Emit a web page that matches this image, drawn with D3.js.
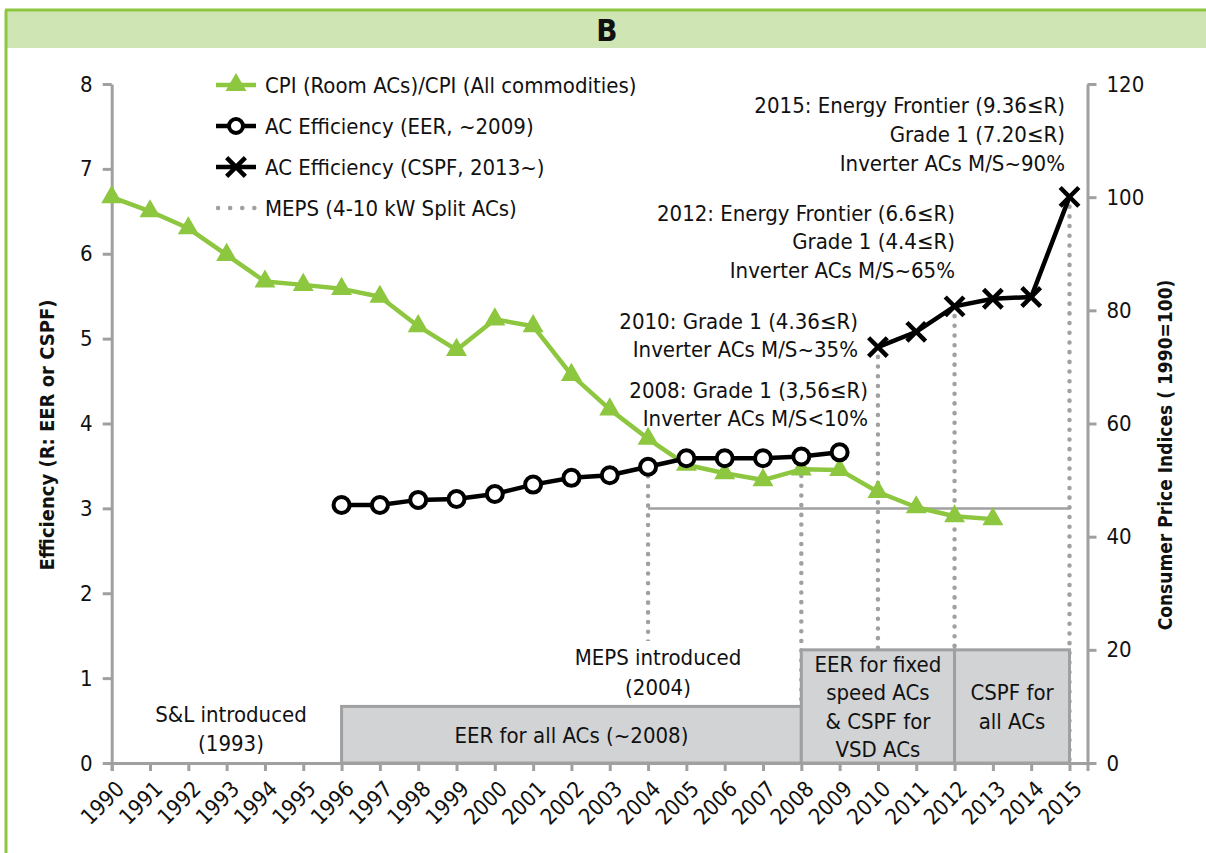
<!DOCTYPE html>
<html>
<head>
<meta charset="utf-8">
<script src="https://cdn.jsdelivr.net/npm/d3@7"></script>
<style>
  body { margin: 0; background: #fff; }
  svg text { font-family: "Liberation Sans Narrow", "Arial Narrow", "DejaVu Sans Condensed", sans-serif; fill: #111; }
</style>
</head>
<body>
<svg id="chart" width="1206" height="853"></svg>
<script>
const WIDTH = 1206
const HEIGHT = 853

// tick labels / categories
const years = [1990, 1991, 1992, 1993, 1994, 1995, 1996, 1997, 1998, 1999, 2000, 2001, 2002,
    2003, 2004, 2005, 2006, 2007, 2008, 2009, 2010, 2011, 2012, 2013, 2014, 2015]

// CPI (Room ACs)/CPI (All commodities), 1990=100, right axis
const cpiYears = [1990, 1991, 1992, 1993, 1994, 1995, 1996, 1997, 1998, 1999, 2000, 2001,
    2002, 2003, 2004, 2005, 2006, 2007, 2008, 2009, 2010, 2011, 2012, 2013]
const cpiValues = [100, 97.5, 94.5, 89.8, 85.1, 84.5, 83.8, 82.4, 77.2, 73.0, 78.4, 77.2,
    68.6, 62.5, 57.3, 52.7, 51.2, 50.0, 51.9, 51.8, 47.9, 45.2, 43.6, 43.1]

// AC efficiency (EER, ~2009), left axis
const eerYears = [1996, 1997, 1998, 1999, 2000, 2001, 2002, 2003, 2004, 2005, 2006, 2007, 2008, 2009]
const eerValues = [3.04, 3.04, 3.10, 3.11, 3.17, 3.28, 3.36, 3.39, 3.49, 3.59, 3.59, 3.59, 3.61, 3.66]

// AC efficiency (CSPF, 2013~), left axis
const cspfYears = [2010, 2011, 2012, 2013, 2014, 2015]
const cspfValues = [4.90, 5.08, 5.38, 5.47, 5.49, 6.67]

// MEPS
const mepsYears = [2004, 2008, 2010, 2012, 2015]
const mepsLevel = 3.0
const mepsStart = 2004
const mepsEnd = 2015

// labelling periods (heights in right-axis units)
const periods = [
    { from: 1996, to: 2008, top: 10, lines: ['EER for all ACs (~2008)'] },
    { from: 2008, to: 2012, top: 20, lines: ['EER for fixed', 'speed ACs', '& CSPF for', 'VSD ACs'] },
    { from: 2012, to: 2015, top: 20, lines: ['CSPF for', 'all ACs'] }
]

const leftTicks = [0, 1, 2, 3, 4, 5, 6, 7, 8]
const rightTicks = [0, 20, 40, 60, 80, 100, 120]

const AXIS_GREY = '#a0a0a0'
const GREEN = '#8dc63f'
const FONT = 22

let padding = { left: 111.7, right: 1087.5, top: 84, bottom: 763 }

const svg = d3.select('#chart')

// header band
svg.append('rect')
    .attr('x', 5).attr('y', 10).attr('width', WIDTH - 5).attr('height', 38)
    .attr('fill', '#d0e5b4')
svg.append('line')
    .attr('x1', 5).attr('x2', WIDTH).attr('y1', 10).attr('y2', 10)
    .attr('stroke', GREEN).attr('stroke-width', 3)
svg.append('line')
    .attr('x1', 6).attr('x2', 6).attr('y1', 10).attr('y2', HEIGHT)
    .attr('stroke', GREEN).attr('stroke-width', 3)
svg.append('text')
    .text('B')
    .attr('x', 607).attr('y', 30).attr('dy', '0.36em')
    .attr('text-anchor', 'middle')
    .style('font-size', '31px').style('font-weight', 'bold')

const x = d3.scaleLinear()
    .domain([1990, 2015.47])
    .range([padding.left, padding.right])

const yLeft = d3.scaleLinear()
    .domain([0, 8])
    .range([padding.bottom, padding.top])

const yRight = d3.scaleLinear()
    .domain([0, 120])
    .range([padding.bottom, padding.top])

function styleAxis(g) {
    g.select('.domain').attr('stroke', AXIS_GREY).attr('stroke-width', 3)
    g.selectAll('.tick line').attr('stroke', AXIS_GREY).attr('stroke-width', 3)
    g.selectAll('.tick text').style('font-size', FONT + 'px').attr('fill', '#111')
}

// MEPS drop lines (dotted), from the efficiency level down to zero
function effAt(year) {
    let i = eerYears.indexOf(year)
    if (i >= 0 && year < 2010) return eerValues[i]
    i = cspfYears.indexOf(year)
    return cspfValues[i]
}

svg.append('g')
    .selectAll('line')
    .data(mepsYears)
    .join('line')
    .attr('x1', d => x(d)).attr('x2', d => x(d))
    .attr('y1', d => yLeft(effAt(d)))
    .attr('y2', yLeft(0))
    .attr('stroke', AXIS_GREY)
    .attr('stroke-width', 4.5)
    .attr('stroke-linecap', 'round')
    .attr('stroke-dasharray', '0.1 9.6')

// MEPS level line
svg.append('line')
    .attr('x1', x(mepsStart)).attr('x2', x(mepsEnd))
    .attr('y1', yLeft(mepsLevel)).attr('y2', yLeft(mepsLevel))
    .attr('stroke', AXIS_GREY).attr('stroke-width', 2.5)

// period boxes
svg.append('g')
    .selectAll('rect')
    .data(periods)
    .join('rect')
    .attr('x', d => x(d.from))
    .attr('y', d => yRight(d.top))
    .attr('width', d => x(d.to) - x(d.from))
    .attr('height', d => yRight(0) - yRight(d.top))
    .attr('fill', '#d1d3d4')
    .attr('stroke', AXIS_GREY)
    .attr('stroke-width', 3)

const periodText = svg.append('g')
periods.forEach(p => {
    let cx = (x(p.from) + x(p.to)) / 2
    let cy = (yRight(p.top) + yRight(0)) / 2
    let lh = 28.5
    p.lines.forEach((line, i) => {
        periodText.append('text')
            .text(line)
            .attr('x', cx)
            .attr('y', cy + (i - (p.lines.length - 1) / 2) * lh)
            .attr('dy', '0.36em')
            .attr('text-anchor', 'middle')
            .style('font-size', FONT + 'px')
    })
})

// free annotations
function multiLine(lines, px, py, anchor, lh) {
    lines.forEach((line, i) => {
        svg.append('text')
            .text(line)
            .attr('x', px)
            .attr('y', py + i * lh)
            .attr('dy', '0.36em')
            .attr('text-anchor', anchor)
            .style('font-size', FONT + 'px')
    })
}

// white backing behind "MEPS introduced"
svg.append('rect')
    .attr('x', 572).attr('y', 641).attr('width', 172).attr('height', 62)
    .attr('fill', '#fff')
multiLine(['S&L introduced', '(1993)'], 231, 714, 'middle', 29)
multiLine(['MEPS introduced', '(2004)'], 658, 657, 'middle', 30)

multiLine(['2015: Energy Frontier (9.36≤R)', 'Grade 1 (7.20≤R)', 'Inverter ACs M/S~90%'], 1065, 105, 'end', 29)
multiLine(['2012: Energy Frontier (6.6≤R)', 'Grade 1 (4.4≤R)', 'Inverter ACs M/S~65%'], 955, 213, 'end', 28.5)
multiLine(['2010: Grade 1 (4.36≤R)', 'Inverter ACs M/S~35%'], 858, 321, 'end', 28.5)
multiLine(['2008: Grade 1 (3,56≤R)', 'Inverter ACs M/S<10%'], 868, 390, 'end', 28)

// axes
svg.append('g')
    .attr('transform', `translate(0, ${padding.bottom})`)
    .call(d3.axisBottom(x).tickValues(years).tickFormat(d3.format('d')).tickSize(8).tickSizeOuter(8))
    .call(styleAxis)
    .selectAll('.tick text')
    .attr('x', 0).attr('y', 0).attr('dy', '0.35em')
    .style('text-anchor', 'end')
    .attr('transform', 'translate(8, 22) rotate(-45)')

svg.append('g')
    .attr('transform', `translate(${padding.left}, 0)`)
    .call(d3.axisLeft(yLeft).tickValues(leftTicks).tickSize(9).tickSizeOuter(0).tickPadding(10))
    .call(styleAxis)

svg.append('g')
    .attr('transform', `translate(${padding.right}, 0)`)
    .call(d3.axisRight(yRight).tickValues(rightTicks).tickSize(9).tickSizeOuter(0).tickPadding(10))
    .call(styleAxis)

// axis titles
svg.append('text')
    .text('Efficiency (R: EER or CSPF)')
    .attr('transform', 'translate(47, 435) rotate(-90)')
    .attr('dy', '0.36em')
    .attr('text-anchor', 'middle')
    .style('font-size', '20px').style('font-weight', 'bold')

svg.append('text')
    .text('Consumer Price Indices ( 1990=100)')
    .attr('transform', 'translate(1165, 455) rotate(-90)')
    .attr('dy', '0.36em')
    .attr('text-anchor', 'middle')
    .style('font-size', '19px').style('font-weight', 'bold')

// CPI series
let cpiData = cpiYears.map((yr, i) => ({ year: yr, value: cpiValues[i] }))
svg.append('path')
    .datum(cpiData)
    .attr('fill', 'none')
    .attr('stroke', GREEN)
    .attr('stroke-width', 4.5)
    .attr('stroke-linejoin', 'round')
    .attr('d', d3.line().x(d => x(d.year)).y(d => yRight(d.value)))

const triangle = d3.symbol(d3.symbolTriangle).size(190)
svg.append('g')
    .selectAll('path')
    .data(cpiData)
    .join('path')
    .attr('d', triangle)
    .attr('transform', d => `translate(${x(d.year)}, ${yRight(d.value)})`)
    .attr('fill', GREEN)

// EER series
let eerData = eerYears.map((yr, i) => ({ year: yr, value: eerValues[i] }))
svg.append('path')
    .datum(eerData)
    .attr('fill', 'none')
    .attr('stroke', '#000')
    .attr('stroke-width', 4.5)
    .attr('d', d3.line().x(d => x(d.year)).y(d => yLeft(d.value)))

svg.append('g')
    .selectAll('circle')
    .data(eerData)
    .join('circle')
    .attr('cx', d => x(d.year))
    .attr('cy', d => yLeft(d.value))
    .attr('r', 8)
    .attr('fill', '#fff')
    .attr('stroke', '#000')
    .attr('stroke-width', 4)

// CSPF series
let cspfData = cspfYears.map((yr, i) => ({ year: yr, value: cspfValues[i] }))
svg.append('path')
    .datum(cspfData)
    .attr('fill', 'none')
    .attr('stroke', '#000')
    .attr('stroke-width', 4.5)
    .attr('d', d3.line().x(d => x(d.year)).y(d => yLeft(d.value)))

const cross = d3.symbol(d3.symbolTimes).size(230)
svg.append('g')
    .selectAll('path')
    .data(cspfData)
    .join('path')
    .attr('d', cross)
    .attr('transform', d => `translate(${x(d.year)}, ${yLeft(d.value)})`)
    .attr('fill', 'none')
    .attr('stroke', '#000')
    .attr('stroke-width', 4.5)

// legend
const legendItems = ['CPI (Room ACs)/CPI (All commodities)', 'AC Efficiency (EER, ~2009)',
    'AC Efficiency (CSPF, 2013~)', 'MEPS (4-10 kW Split ACs)']
const legend = svg.append('g').attr('transform', 'translate(216, 85)')
const rowH = 41
legendItems.forEach((label, i) => {
    let row = legend.append('g').attr('transform', `translate(0, ${i * rowH})`)
    if (i === 0) {
        row.append('line').attr('x1', 0).attr('x2', 40).attr('stroke', GREEN).attr('stroke-width', 4.5)
        row.append('path').attr('d', triangle).attr('transform', 'translate(20, 0)').attr('fill', GREEN)
    } else if (i === 1) {
        row.append('line').attr('x1', 0).attr('x2', 40).attr('stroke', '#000').attr('stroke-width', 4.5)
        row.append('circle').attr('cx', 20).attr('r', 7).attr('fill', '#fff')
            .attr('stroke', '#000').attr('stroke-width', 4)
    } else if (i === 2) {
        row.append('line').attr('x1', 0).attr('x2', 40).attr('stroke', '#000').attr('stroke-width', 4.5)
        row.append('path').attr('d', cross).attr('transform', 'translate(20, 0)')
            .attr('fill', 'none').attr('stroke', '#000').attr('stroke-width', 4.5)
    } else {
        row.append('line').attr('x1', 2).attr('x2', 40).attr('stroke', AXIS_GREY)
            .attr('stroke-width', 4.5).attr('stroke-linecap', 'round').attr('stroke-dasharray', '0.1 12')
    }
    row.append('text')
        .text(label)
        .attr('x', 49)
        .attr('dy', '0.36em')
        .style('font-size', FONT + 'px')
})
</script>
</body>
</html>
